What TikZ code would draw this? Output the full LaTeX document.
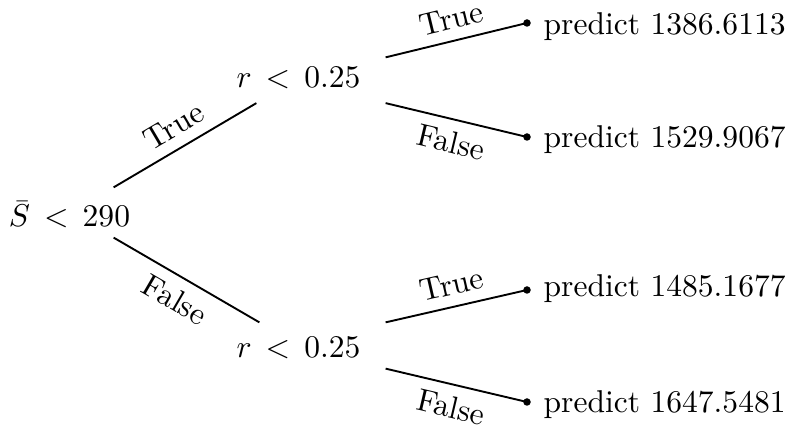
\documentclass[tikz,border=0pt]{standalone}
\begin{document}
\newcommand\pxu{0.317pt}
\tikzset{
  port/.style 2 args={rectangle, inner sep=0pt, minimum width=#1*\pxu, minimum height=#2*\pxu},
  cond/.style={anchor=base, inner sep=0pt},
  result/.style={anchor=base west, inner sep=0pt},
  dot/.style={circle, fill, inner sep=0pt, minimum size=7.5*\pxu},
  branch/.style={line width=0.6pt},
  yes/.style={midway, sloped, above},
  no/.style={midway, sloped, below}
}
\begin{tikzpicture}[x=\pxu, y=-\pxu]
  \useasboundingbox (0,0) rectangle (789,427);

  % split points (invisible boxes whose corners carry the branches)
  \node[port={87}{49}]   (root) at (69.5,212.5) {};
  \node[port={128}{44.5}] (c1)  at (321,80.25) {};
  \node[port={125}{45}]   (c2)  at (322.5,345.5) {};

  % conditions
  \node[cond] (root-text) at (69.5,227) {$\bar{S}\,<\,290$};
  \node[cond] (c1-text)   at (298.5,88) {$r\,<\,0.25$};
  \node[cond] (c2-text)   at (298.5,358) {$r\,<\,0.25$};

  % leaves
  \node[dot] (d1) at (527,23) {};
  \node[dot] (d2) at (527,137) {};
  \node[dot] (d3) at (527,290) {};
  \node[dot] (d4) at (527,402) {};
  \node[result] (l1) at (543,35)  {predict 1386.6113};
  \node[result] (l2) at (543,148) {predict 1529.9067};
  \node[result] (l3) at (543,297) {predict 1485.1677};
  \node[result] (l4) at (543,413) {predict 1647.5481};

  % branches
  \draw[branch] (root.north east) -- node[yes] {True}  (c1.south west);
  \draw[branch] (root.south east) -- node[no]  {False} (c2.north west);
  \draw[branch] (c1.north east) -- node[yes] {True}  (d1.center);
  \draw[branch] (c1.south east) -- node[no]  {False} (d2.center);
  \draw[branch] (c2.north east) -- node[yes] {True}  (d3.center);
  \draw[branch] (c2.south east) -- node[no]  {False} (d4.center);
\end{tikzpicture}
\end{document}
